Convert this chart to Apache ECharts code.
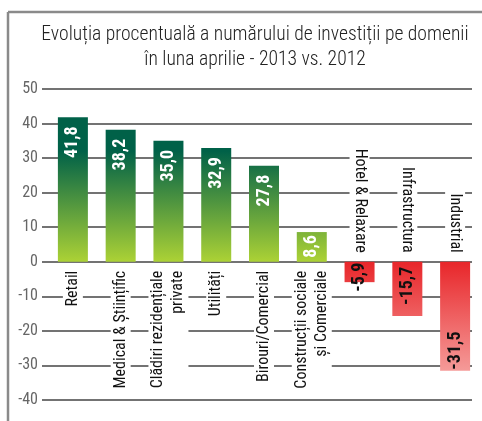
<!DOCTYPE html>
<html>
<head>
<meta charset="utf-8">
<script src="https://cdn.jsdelivr.net/npm/echarts@6/dist/echarts.min.js"></script>
<style>
  html, body { margin: 0; padding: 0; background: #fff; }
  #chart { width: 482px; height: 421px; }
</style>
</head>
<body>
<div id="chart"></div>
<script>
var categories = ['Retail', 'Medical & Științific', 'Clădiri rezidențiale\nprivate', 'Utilități',
    'Birouri/Comercial', 'Construcții sociale\nși Comerciale', 'Hotel & Relaxare', 'Infrastructura', 'Industrial'];
var values = [41.8, 38.2, 35.0, 32.9, 27.8, 8.6, -5.9, -15.7, -31.5];
var yMin = -40, yMax = 50, yStep = 10;

var font = '"Roboto Condensed", "Liberation Sans Narrow", sans-serif';
var myChart = echarts.init(document.getElementById('chart'));

function fmt(v) {
    return v.toFixed(1).replace('.', ',');
}

// etichete pe bare, pozitii alese dupa semn
function valueLabel(v) {
    var lbl = {
        show: true, rotate: 90, verticalAlign: 'middle',
        fontFamily: font, fontWeight: 'bold', fontSize: 18,
        formatter: fmt(v)
    };
    if (v >= 0) {
        lbl.position = 'insideTop'; lbl.align = 'right'; lbl.color = '#fff';
        lbl.distance = v < 15 ? 3 : 9;
    } else if (v > -20) {
        lbl.position = 'insideTop'; lbl.align = 'right'; lbl.color = '#111';
        lbl.distance = v > -10 ? 1 : 5;
    } else {
        lbl.position = 'insideBottom'; lbl.align = 'left'; lbl.color = '#111';
        lbl.distance = 1;
    }
    return lbl;
}

function catLabel(showNeg) {
    return {
        interval: 0, rotate: 90, margin: 6,
        fontFamily: font, fontSize: 16, color: '#111', lineHeight: 20,
        backgroundColor: '#fff', padding: [0, 3],
        formatter: function (name, idx) {
            var neg = values[idx] < 0;
            return neg === showNeg ? name : '';
        }
    };
}

var barGrid = { left: 49, width: 430, top: 89, bottom: 21, outerBoundsMode: 'none' };
var noLine = { show: false, onZero: false };

var option = {
    animation: false,
    title: {
        text: 'Evoluția procentuală a numărului de investiții pe domenii\nîn luna aprilie - 2013 vs. 2012',
        left: 250, top: 18, textAlign: 'center',
        textStyle: { fontFamily: font, fontWeight: 300, fontSize: 19.6, lineHeight: 25, color: '#222' }
    },
    graphic: [
        { type: 'line', shape: { x1: 8, y1: 12, x2: 482, y2: 12 }, style: { stroke: '#8a8a8a', lineWidth: 2.5 } },
        { type: 'line', shape: { x1: 8, y1: 12, x2: 8, y2: 421 }, style: { stroke: '#8a8a8a', lineWidth: 2.5 } }
    ],
    grid: [
        { left: 42, right: 10, top: 89, bottom: 21, outerBoundsMode: 'none' },
        barGrid
    ],
    xAxis: [
        { gridIndex: 0, type: 'value', show: false },
        {
            gridIndex: 1, type: 'category', data: categories, position: 'bottom', z: 5,
            axisLine: noLine, axisTick: { show: false },
            axisLabel: catLabel(false)
        },
        {
            gridIndex: 1, type: 'category', data: categories, position: 'top', z: 5,
            axisLine: noLine, axisTick: { show: false },
            axisLabel: catLabel(true)
        }
    ],
    yAxis: [
        {
            gridIndex: 0, type: 'value', min: yMin, max: yMax, interval: yStep,
            axisLine: { show: false }, axisTick: { show: false },
            axisLabel: { fontFamily: font, fontSize: 16, color: '#666', margin: 4 },
            splitLine: { lineStyle: { color: '#444', width: 1.5 } }
        },
        {
            gridIndex: 1, type: 'value', min: yMin, max: yMax, interval: yStep,
            show: false, splitLine: { show: false }
        }
    ],
    series: [{
        type: 'bar', xAxisIndex: 1, yAxisIndex: 1, barWidth: 30,
        data: values.map(function (v) {
            return { value: v, label: valueLabel(v) };
        })
    }]
};

myChart.setOption(option);

// pozitii in pixeli luate din scala axei Y
var y0 = myChart.convertToPixel({ yAxisIndex: 1 }, 0);
var yLow = myChart.convertToPixel({ yAxisIndex: 1 }, yMin);
var yHigh = myChart.convertToPixel({ yAxisIndex: 1 }, yMax);
var yTop = myChart.convertToPixel({ yAxisIndex: 1 }, 32);
var yBot = myChart.convertToPixel({ yAxisIndex: 1 }, -32);
var green = new echarts.graphic.LinearGradient(0, yTop, 0, y0,
    [{ offset: 0, color: '#006148' }, { offset: 1, color: '#acd235' }], true);
var red = new echarts.graphic.LinearGradient(0, y0, 0, yBot,
    [{ offset: 0, color: '#e8262a' }, { offset: 1, color: '#f59c9a' }], true);

myChart.setOption({
    xAxis: [{}, { offset: -(yLow - y0) }, { offset: -(y0 - yHigh) }],
    series: [{
        data: values.map(function (v) {
            return { value: v, label: valueLabel(v), itemStyle: { color: v >= 0 ? green : red } };
        })
    }]
});
</script>
</body>
</html>
